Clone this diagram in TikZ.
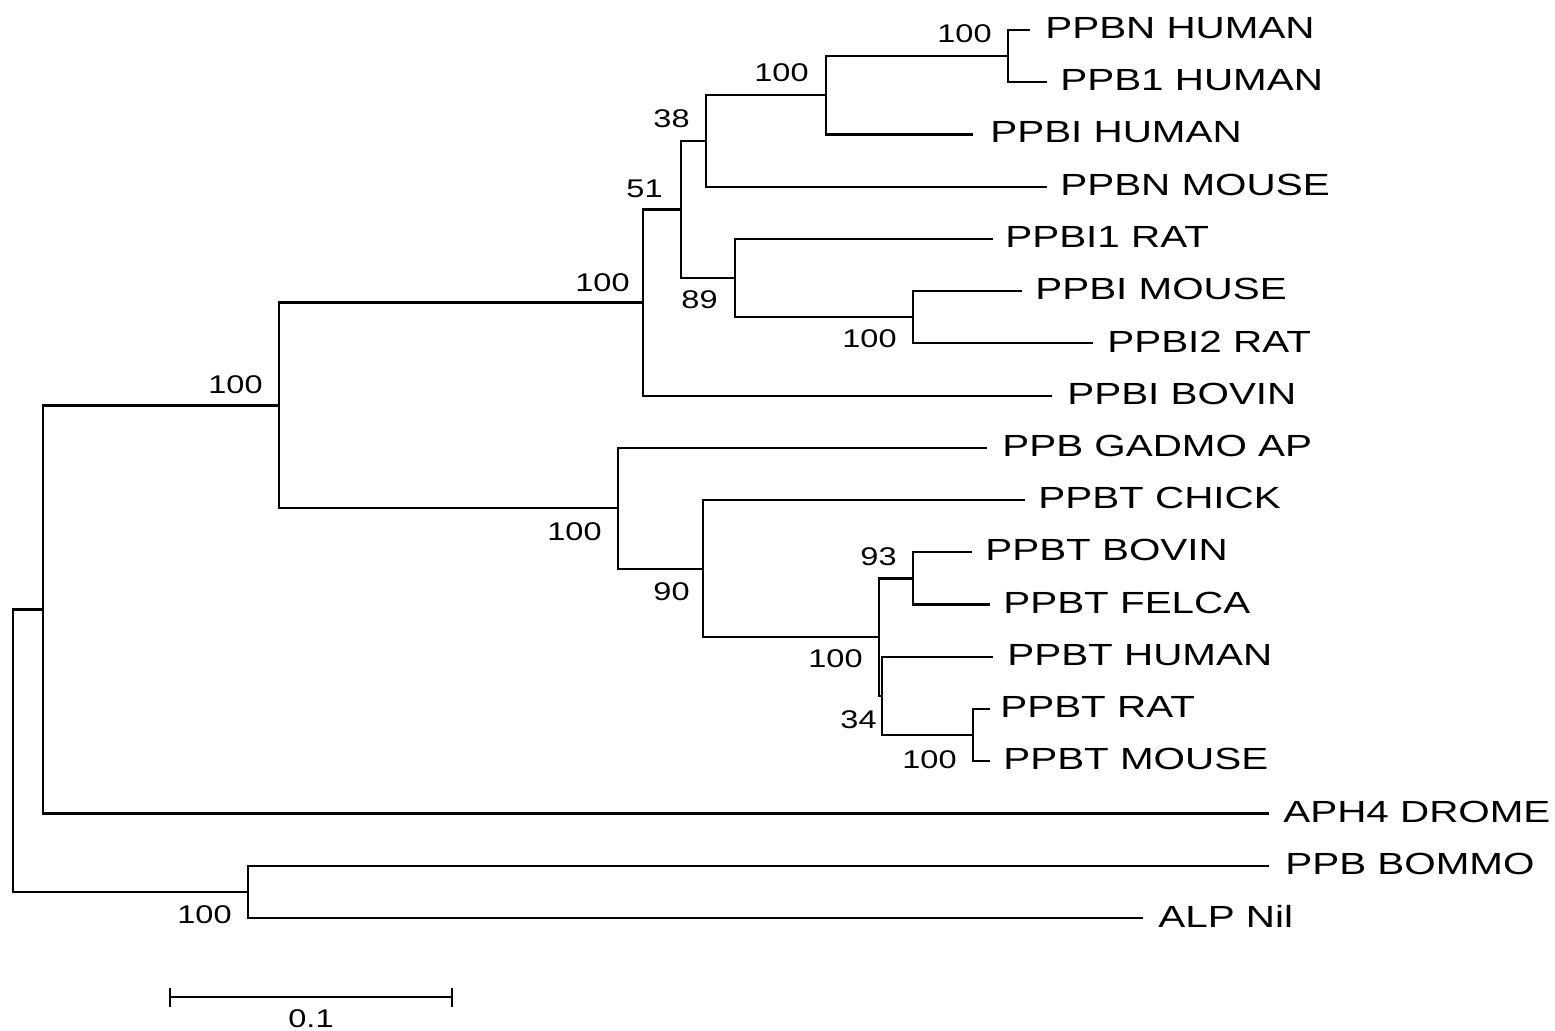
\documentclass[tikz,border=0pt]{standalone}
\usepackage{fontspec}
\setmainfont{Liberation Sans}
\usepackage{graphicx}
\newcommand\LeafTxt[1]{\scalebox{1.32}[1]{#1}}
\newcommand\BsTxt[1]{\scalebox{1.27}[1]{#1}}
\begin{document}
\begin{tikzpicture}[x=0.5pt,y=-0.5pt,
  br/.style={line width=1.1pt, line join=miter, draw=black},
  leaf/.style={anchor=west, inner sep=0pt, font=\fontsize{15.3}{18}\selectfont},
  bs/.style={anchor=east, inner sep=0pt, font=\fontsize{12.8}{15}\selectfont}]
\useasboundingbox (0,0) rectangle (1555,1031);
% internal nodes
\coordinate (R) at (12.7,750.7);
\coordinate (A) at (43,609.5);
\coordinate (B) at (279,405.5);
\coordinate (C) at (643,302.6);
\coordinate (D) at (681,209.6);
\coordinate (E) at (706,141);
\coordinate (H) at (826,95.3);
\coordinate (I) at (1008,56.1);
\coordinate (F) at (735,278.2);
\coordinate (J) at (913,317.3);
\coordinate (G) at (618,508.3);
\coordinate (K) at (703,568.8);
\coordinate (L) at (879,637.3);
\coordinate (M) at (882,696.1);
\coordinate (N) at (913,578.5);
\coordinate (O) at (973,735.3);
\coordinate (BOM) at (248,891.9);
% leaf tips
\coordinate (t1) at (1030,30);
\coordinate (t2) at (1047,82.2);
\coordinate (t3) at (973,134.5);
\coordinate (t4) at (1047,186.7);
\coordinate (t5) at (993,239);
\coordinate (t6) at (1022,291.2);
\coordinate (t7) at (1093,343.4);
\coordinate (t8) at (1052,395.7);
\coordinate (t9) at (987,447.9);
\coordinate (t10) at (1025,500.2);
\coordinate (t11) at (972,552.4);
\coordinate (t12) at (990,604.6);
\coordinate (t13) at (993,656.9);
\coordinate (t14) at (990,709.1);
\coordinate (t15) at (990,761.4);
\coordinate (t16) at (1269,813.6);
\coordinate (t17) at (1269,865.8);
\coordinate (t18) at (1143,918);
% leaf labels
\node[leaf] (n1) at (1045,28) {\LeafTxt{PPBN HUMAN}};
\node[leaf] (n2) at (1060,80.2) {\LeafTxt{PPB1 HUMAN}};
\node[leaf] (n3) at (990,132.5) {\LeafTxt{PPBI HUMAN}};
\node[leaf] (n4) at (1060,184.7) {\LeafTxt{PPBN MOUSE}};
\node[leaf] (n5) at (1005,237) {\LeafTxt{PPBI1 RAT}};
\node[leaf] (n6) at (1035,289.2) {\LeafTxt{PPBI MOUSE}};
\node[leaf] (n7) at (1107,341.4) {\LeafTxt{PPBI2 RAT}};
\node[leaf] (n8) at (1067,393.7) {\LeafTxt{PPBI BOVIN}};
\node[leaf] (n9) at (1002,445.9) {\LeafTxt{PPB GADMO AP}};
\node[leaf] (n10) at (1038,498.2) {\LeafTxt{PPBT CHICK}};
\node[leaf] (n11) at (985,550.4) {\LeafTxt{PPBT BOVIN}};
\node[leaf] (n12) at (1003,602.6) {\LeafTxt{PPBT FELCA}};
\node[leaf] (n13) at (1007,654.9) {\LeafTxt{PPBT HUMAN}};
\node[leaf] (n14) at (1000,707.1) {\LeafTxt{PPBT RAT}};
\node[leaf] (n15) at (1003,759.4) {\LeafTxt{PPBT MOUSE}};
\node[leaf] (n16) at (1283,811.6) {\LeafTxt{APH4 DROME}};
\node[leaf] (n17) at (1285,863.8) {\LeafTxt{PPB BOMMO}};
\node[leaf] (n18) at (1158,916) {\LeafTxt{ALP Nil}};
% branches
\draw[br] (I) |- (t1); \draw[br] (I) |- (t2);
\draw[br] (H) |- (I);  \draw[br] (H) |- (t3);
\draw[br] (E) |- (H);  \draw[br] (E) |- (t4);
\draw[br] (J) |- (t6); \draw[br] (J) |- (t7);
\draw[br] (F) |- (t5); \draw[br] (F) |- (J);
\draw[br] (D) |- (E);  \draw[br] (D) |- (F);
\draw[br] (C) |- (D);  \draw[br] (C) |- (t8);
\draw[br] (O) |- (t14); \draw[br] (O) |- (t15);
\draw[br] (M) |- (t13); \draw[br] (M) |- (O);
\draw[br] (N) |- (t11); \draw[br] (N) |- (t12);
\draw[br] (L) |- (N);  \draw[br] (L) |- (M);
\draw[br] (K) |- (t10); \draw[br] (K) |- (L);
\draw[br] (G) |- (t9); \draw[br] (G) |- (K);
\draw[br] (B) |- (C);  \draw[br] (B) |- (G);
\draw[br] (A) |- (B);  \draw[br] (A) |- (t16);
\draw[br] (BOM) |- (t17); \draw[br] (BOM) |- (t18);
\draw[br] (R) |- (A);  \draw[br] (R) |- (BOM);
% bootstrap values
\node[bs] (bI) at ([shift={(-16,-22)}]I) {\BsTxt{100}};
\node[bs] (bH) at ([shift={(-17,-22.6)}]H) {\BsTxt{100}};
\node[bs] (bE) at ([shift={(-16,-22)}]E) {\BsTxt{38}};
\node[bs] (bD) at ([shift={(-18,-21)}]D) {\BsTxt{51}};
\node[bs] (bC) at ([shift={(-13,-20)}]C) {\BsTxt{100}};
\node[bs] (bF) at ([shift={(-17,21)}]F) {\BsTxt{89}};
\node[bs] (bJ) at ([shift={(-16,21)}]J) {\BsTxt{100}};
\node[bs] (bB) at ([shift={(-16,-21)}]B) {\BsTxt{100}};
\node[bs] (bG) at ([shift={(-16,23)}]G) {\BsTxt{100}};
\node[bs] (bK) at ([shift={(-13,23)}]K) {\BsTxt{90}};
\node[bs] (bN) at ([shift={(-16,-22)}]N) {\BsTxt{93}};
\node[bs] (bL) at ([shift={(-16,21)}]L) {\BsTxt{100}};
\node[bs] (bM) at ([shift={(-5,24)}]M) {\BsTxt{34}};
\node[bs] (bO) at ([shift={(-16,24)}]O) {\BsTxt{100}};
\node[bs] (bBOM) at ([shift={(-16,23)}]BOM) {\BsTxt{100}};
% scale bar
\coordinate (s1) at (170,997.3);
\coordinate (s2) at (452.3,997.3);
\draw[br] (s1) -- (s2);
\draw[br] ([shift={(0,-9.5)}]s1) -- ([shift={(0,9.5)}]s1);
\draw[br] ([shift={(0,-9.5)}]s2) -- ([shift={(0,9.5)}]s2);
\node[bs, anchor=center] (sbl) at (311,1019) {\BsTxt{0.1}};
\end{tikzpicture}
\end{document}
